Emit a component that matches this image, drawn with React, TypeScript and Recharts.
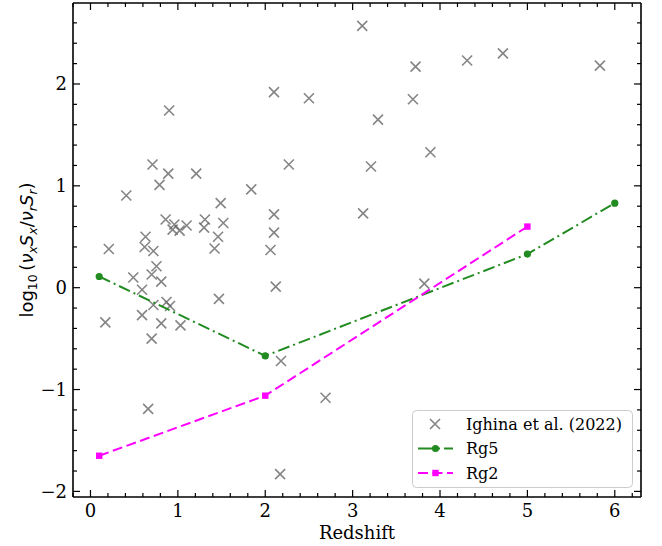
import React from 'react';
import { ScatterChart, Scatter, XAxis, YAxis, Legend } from 'recharts';

// Ighina et al. (2022): redshift and log10(nu_x S_x / nu_r S_r)
const ighinaZ = [
  3.11, 4.72, 3.72, 4.31, 5.83, 3.69, 3.29, 3.89, 3.21, 3.12, 3.82,
  2.10, 2.50, 2.27, 1.84, 0.90, 0.71, 0.89, 1.21, 0.79, 0.41, 1.49,
  2.10, 2.10, 2.06, 2.12, 2.18, 2.69, 2.17, 0.21, 0.17, 0.66, 0.70,
  0.86, 0.96, 0.94, 1.02, 1.10, 1.31, 1.30, 1.52, 1.46, 1.42, 0.63,
  0.62, 0.72, 0.755, 0.70, 0.81, 0.49, 0.59, 0.87, 0.91, 0.72, 0.59,
  0.81, 1.03, 1.47,
];
const ighinaLog = [
  2.57, 2.30, 2.17, 2.23, 2.18, 1.85, 1.65, 1.33, 1.19, 0.73, 0.04,
  1.92, 1.86, 1.21, 0.965, 1.74, 1.21, 1.12, 1.12, 1.01, 0.905, 0.83,
  0.72, 0.54, 0.37, 0.01, -0.72, -1.08, -1.83, 0.38, -0.34, -1.19, -0.50,
  0.67, 0.62, 0.57, 0.56, 0.61, 0.67, 0.59, 0.635, 0.50, 0.385, 0.50,
  0.40, 0.36, 0.21, 0.13, 0.06, 0.10, -0.02, -0.14, -0.18, -0.17, -0.27,
  -0.35, -0.37, -0.11,
];

const rg5Z = [0.1, 2, 5, 6];
const rg5Log = [0.11, -0.67, 0.33, 0.83];
const rg2Z = [0.1, 2, 5];
const rg2Log = [-1.65, -1.06, 0.6];

const seriesNames = ['Ighina et al. (2022)', 'Rg5', 'Rg2'];

const xMajorTicks = [0, 1, 2, 3, 4, 5, 6];
const yMajorTicks = [-2, -1, 0, 1, 2];
const xDomain: [number, number] = [-0.2, 6.3];
const yDomain: [number, number] = [-2.055, 2.795];

const minorStep = 0.2;
const buildTicks = (lo: number, hi: number) => {
  const out: number[] = [];
  const start = Math.ceil(lo / minorStep - 1e-6);
  const end = Math.floor(hi / minorStep + 1e-6);
  for (let k = start; k <= end; k++) out.push(Number((k * minorStep).toFixed(2)));
  return out;
};
const xTicks = buildTicks(xDomain[0], xDomain[1]);
const yTicks = buildTicks(yDomain[0], yDomain[1]);

const ighina = ighinaZ.map((x, i) => ({ x, y: ighinaLog[i] }));
const rg5 = rg5Z.map((x, i) => ({ x, y: rg5Log[i] }));
const rg2 = rg2Z.map((x, i) => ({ x, y: rg2Log[i] }));

const GRAY = '#666666';
const GREEN = '#228B22';
const MAGENTA = '#FF00FF';
const SERIF = 'DejaVu Serif, Liberation Serif, serif';
const SANS = 'DejaVu Sans, sans-serif';
const MAJOR = 7;
const MINOR = 4;

const isMajor = (v: number, majors: number[]) => majors.some((m) => Math.abs(m - v) < 1e-6);
const fmt = (v: number) => (v < 0 ? '\u2212' + Math.abs(v) : String(v));

const BottomTick = (props: any) => {
  const { x, y, payload } = props;
  const major = isMajor(payload.value, xMajorTicks);
  return (
    <g>
      <line x1={x} x2={x} y1={y} y2={y - (major ? MAJOR : MINOR)} stroke="#000" strokeWidth={1.2} />
      {major && (
        <text x={x} y={y + 20} textAnchor="middle" style={{ fontFamily: SERIF }} fontSize={18} fill="#000">
          {fmt(payload.value)}
        </text>
      )}
    </g>
  );
};

const TopTick = (props: any) => {
  const { x, y, payload } = props;
  const major = isMajor(payload.value, xMajorTicks);
  return <line x1={x} x2={x} y1={y} y2={y + (major ? MAJOR : MINOR)} stroke="#000" strokeWidth={1.2} />;
};

const LeftTick = (props: any) => {
  const { x, y, payload } = props;
  const major = isMajor(payload.value, yMajorTicks);
  return (
    <g>
      <line x1={x} x2={x + (major ? MAJOR : MINOR)} y1={y} y2={y} stroke="#000" strokeWidth={1.2} />
      {major && (
        <text x={x - 6} y={y + 6.5} textAnchor="end" style={{ fontFamily: SERIF }} fontSize={18} fill="#000">
          {fmt(payload.value)}
        </text>
      )}
    </g>
  );
};

const RightTick = (props: any) => {
  const { x, y, payload } = props;
  const major = isMajor(payload.value, yMajorTicks);
  return <line x1={x} x2={x - (major ? MAJOR : MINOR)} y1={y} y2={y} stroke="#000" strokeWidth={1.2} />;
};

const crossShape = (props: any) => {
  const { cx, cy } = props;
  const s = 5;
  return (
    <path
      d={`M${cx - s},${cy - s}L${cx + s},${cy + s}M${cx - s},${cy + s}L${cx + s},${cy - s}`}
      stroke={GRAY}
      strokeOpacity={0.8}
      strokeWidth={1.6}
      fill="none"
    />
  );
};

const circleShape = (props: any) => <circle cx={props.cx} cy={props.cy} r={3.6} fill={GREEN} />;
const squareShape = (props: any) => (
  <rect x={props.cx - 3.2} y={props.cy - 3.2} width={6.4} height={6.4} fill={MAGENTA} />
);

const XLabel = (props: any) => {
  const vb = props.viewBox || { x: 73, y: 497, width: 568, height: 49 };
  return (
    <text x={vb.x + vb.width / 2} y={vb.y + 42} textAnchor="middle" style={{ fontFamily: SERIF }} fontSize={18} fill="#000">
      Redshift
    </text>
  );
};

const YLabel = (props: any) => {
  const vb = props.viewBox || { x: 0, y: 0, width: 73, height: 494 };
  const cx = vb.x + 27;
  const cy = vb.y + vb.height / 2;
  const sub = 12.5;
  return (
    <text
      x={cx}
      y={cy}
      transform={`rotate(-90, ${cx}, ${cy})`}
      textAnchor="middle"
      style={{ fontFamily: SANS }}
      fontSize={18}
      fill="#000"
      dy={6}
    >
      <tspan>log</tspan>
      <tspan fontSize={sub} dy={4}>10</tspan>
      <tspan dy={-4}>{'\u2009('}</tspan>
      <tspan fontStyle="italic">ν</tspan>
      <tspan fontStyle="italic" fontSize={sub} dy={4}>x</tspan>
      <tspan fontStyle="italic" dy={-4}>S</tspan>
      <tspan fontStyle="italic" fontSize={sub} dy={4}>x</tspan>
      <tspan dy={-4}>/</tspan>
      <tspan fontStyle="italic">ν</tspan>
      <tspan fontStyle="italic" fontSize={sub} dy={4}>r</tspan>
      <tspan fontStyle="italic" dy={-4}>S</tspan>
      <tspan fontStyle="italic" fontSize={sub} dy={4}>r</tspan>
      <tspan dy={-4}>)</tspan>
    </text>
  );
};

const LegendBox = () => {
  const rows = [14, 38.5, 63];
  return (
    <svg width={221} height={79} style={{ display: 'block' }}>
      <rect x={0.5} y={0.5} width={220} height={77} rx={4} ry={4} fill="#fff" fillOpacity={0.8} stroke="#cccccc" />
      <path d={`M${18},${rows[0] - 5}L${28},${rows[0] + 5}M${18},${rows[0] + 5}L${28},${rows[0] - 5}`} stroke={GRAY} strokeOpacity={0.8} strokeWidth={1.6} />
      <text x={54} y={rows[0] + 5.5} style={{ fontFamily: SERIF }} fontSize={16} fill="#000">{seriesNames[0]}</text>
      <line x1={6} x2={41} y1={rows[1]} y2={rows[1]} stroke={GREEN} strokeWidth={2} strokeDasharray="16 4 2 4" />
      <circle cx={23.5} cy={rows[1]} r={3.6} fill={GREEN} />
      <text x={54} y={rows[1] + 5.5} style={{ fontFamily: SERIF }} fontSize={16} fill="#000">{seriesNames[1]}</text>
      <line x1={6} x2={41} y1={rows[2]} y2={rows[2]} stroke={MAGENTA} strokeWidth={2} strokeDasharray="10 4.5" />
      <rect x={20.3} y={rows[2] - 3.2} width={6.4} height={6.4} fill={MAGENTA} />
      <text x={54} y={rows[2] + 5.5} style={{ fontFamily: SERIF }} fontSize={16} fill="#000">{seriesNames[2]}</text>
    </svg>
  );
};

export default function App() {
  return (
    <div style={{ position: 'absolute', left: 0, top: 0, width: 662, height: 546, background: '#fff' }}>
      <ScatterChart width={662} height={546} margin={{ top: 2, right: 20, left: 0, bottom: 0 }}>
        <XAxis
          xAxisId="b"
          type="number"
          dataKey="x"
          orientation="bottom"
          domain={xDomain}
          allowDataOverflow
          ticks={xTicks}
          interval={0}
          height={49}
          tickSize={0}
          tickMargin={0}
          tickLine={false}
          tick={<BottomTick />}
          axisLine={{ stroke: '#000', strokeWidth: 1.6 }}
          label={(p: any) => <XLabel {...p} />}
        />
        <XAxis
          xAxisId="t"
          type="number"
          dataKey="x"
          orientation="top"
          domain={xDomain}
          allowDataOverflow
          ticks={xTicks}
          interval={0}
          height={1}
          tickSize={0}
          tickMargin={0}
          tickLine={false}
          tick={<TopTick />}
          axisLine={{ stroke: '#000', strokeWidth: 1.6 }}
        />
        <YAxis
          yAxisId="l"
          type="number"
          dataKey="y"
          orientation="left"
          domain={yDomain}
          allowDataOverflow
          ticks={yTicks}
          interval={0}
          width={73}
          tickSize={0}
          tickMargin={0}
          tickLine={false}
          tick={<LeftTick />}
          axisLine={{ stroke: '#000', strokeWidth: 1.6 }}
          label={(p: any) => <YLabel {...p} />}
        />
        <YAxis
          yAxisId="r"
          type="number"
          dataKey="y"
          orientation="right"
          domain={yDomain}
          allowDataOverflow
          ticks={yTicks}
          interval={0}
          width={1}
          tickSize={0}
          tickMargin={0}
          tickLine={false}
          tick={<RightTick />}
          axisLine={{ stroke: '#000', strokeWidth: 1.6 }}
        />
        <Scatter name={seriesNames[0]} xAxisId="b" yAxisId="l" data={ighina} shape={crossShape} isAnimationActive={false} />
        <Scatter
          name={seriesNames[1]}
          xAxisId="b"
          yAxisId="l"
          data={rg5}
          fill={GREEN}
          line={{ stroke: GREEN, strokeWidth: 2, strokeDasharray: '12 4 2 4' }}
          shape={circleShape}
          isAnimationActive={false}
        />
        <Scatter
          name={seriesNames[2]}
          xAxisId="b"
          yAxisId="l"
          data={rg2}
          fill={MAGENTA}
          line={{ stroke: MAGENTA, strokeWidth: 2, strokeDasharray: '10 4.5' }}
          shape={squareShape}
          isAnimationActive={false}
        />
        {/* invisible anchors so the top/right frame axes are bound to a series */}
        <Scatter xAxisId="t" yAxisId="r" data={rg5} shape={() => <g />} legendType="none" isAnimationActive={false} />
        <Legend
          layout="horizontal"
          verticalAlign="middle"
          align="center"
          wrapperStyle={{ left: 412, top: 410, width: 221, height: 79, margin: 0, padding: 0 }}
          content={() => <LegendBox />}
        />
      </ScatterChart>
    </div>
  );
}
